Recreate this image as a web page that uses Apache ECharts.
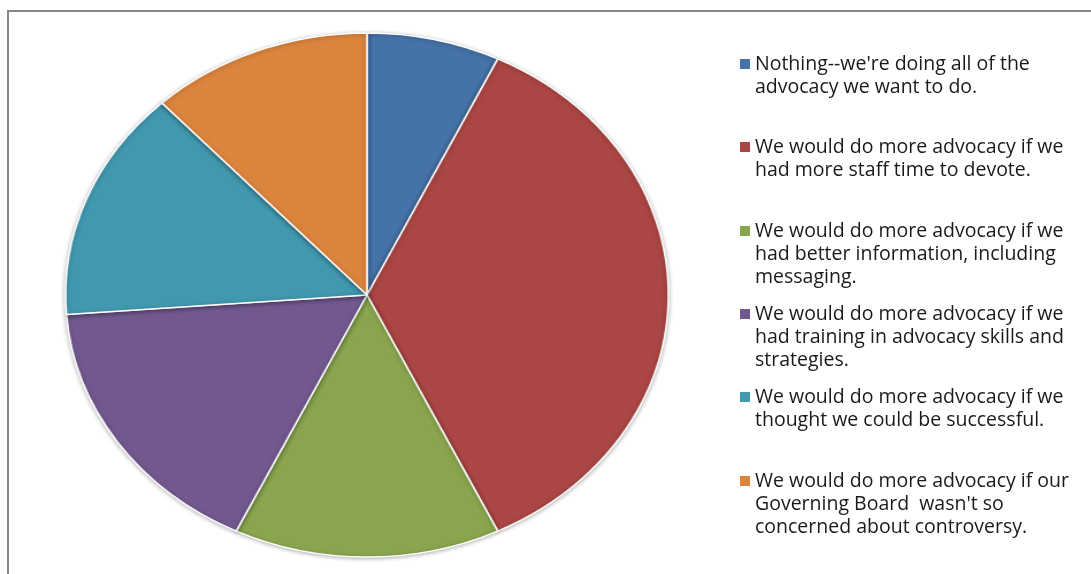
<!DOCTYPE html>
<html>
<head>
<meta charset="utf-8">
<script src="https://cdn.jsdelivr.net/npm/echarts@6/dist/echarts.min.js"></script>
<style>
  html, body { margin: 0; padding: 0; background: #fff; overflow: hidden; }
  #frame { position: absolute; left: 7px; top: 10px; width: 1200px; height: 700px; border: 2px solid #878787; }
  /* the original pie is an ellipse, so the pie chart is stretched sideways */
  #pie { position: absolute; left: 97px; top: 25px; width: 540px; height: 540px;
         transform: scaleX(1.1505); transform-origin: 50% 50%; }
  #legend { position: absolute; left: 0; top: 0; width: 1091px; height: 574px; }
</style>
</head>
<body>
<div id="frame"></div>
<div id="pie"></div>
<div id="legend"></div>
<script>
const answers = [
  "Nothing--we're doing all of the advocacy we want to do.",
  'We would do more advocacy if we had more staff time to devote.',
  'We would do more advocacy if we had better information, including messaging.',
  'We would do more advocacy if we had training in advocacy skills and strategies.',
  'We would do more advocacy if we thought we could be successful.',
  "We would do more advocacy if our Governing Board wasn't so concerned about controversy."
];
const legendLines = [
  ["Nothing--we're doing all of the", 'advocacy we want to do.'],
  ['We would do more advocacy if we', 'had more staff time to devote.'],
  ['We would do more advocacy if we', 'had better information, including', 'messaging.'],
  ['We would do more advocacy if we', 'had training in advocacy skills and', 'strategies.'],
  ['We would do more advocacy if we', 'thought we could be successful.'],
  ['We would do more advocacy if our', "Governing Board  wasn't so", 'concerned about controversy.']
];
const counts = [3, 15, 6, 7, 6, 5];
const colors = ['#4572A7', '#AA4643', '#89A54E', '#71588F', '#4198AF', '#DB843D'];

const pieData = answers.map((name, i) => ({ name, value: counts[i] }));
const lineH = 23;

const pieChart = echarts.init(document.getElementById('pie'));
pieChart.setOption({
  animation: false,
  color: colors,
  series: [{
    type: 'pie',
    center: ['50%', '50%'],
    radius: 262,
    startAngle: 90,
    clockwise: true,
    label: { show: false },
    labelLine: { show: false },
    itemStyle: {
      borderColor: '#fff',
      borderWidth: 1.5,
      shadowBlur: 4,
      shadowOffsetY: 1,
      shadowColor: 'rgba(0,0,0,0.3)'
    },
    data: pieData
  }]
});

// legend sits in its own unstretched chart, one block per answer.
// blank lines are put in front so the marker lines up with the first text line
const firstLineY = [64, 147, 231, 314, 397, 481];
const legendChart = echarts.init(document.getElementById('legend'));
legendChart.setOption({
  animation: false,
  color: colors,
  legend: answers.map((name, i) => {
    const n = legendLines[i].length;
    return {
      left: 740,
      top: firstLineY[i] - (2 * n - 1) * lineH / 2,
      orient: 'vertical',
      icon: 'rect',
      itemWidth: 10,
      itemHeight: 10,
      itemGap: 0,
      padding: 0,
      data: [name],
      formatter: () => '\n'.repeat(n - 1) + legendLines[i].join('\n'),
      textStyle: {
        fontFamily: 'Open Sans',
        fontSize: 19.5,
        lineHeight: lineH,
        color: '#1a1a1a'
      }
    };
  }),
  series: [{
    type: 'pie',
    radius: 0,
    silent: true,
    label: { show: false },
    labelLine: { show: false },
    data: pieData
  }]
});

pieChart.group = legendChart.group = 'advocacy';
echarts.connect('advocacy');
</script>
</body>
</html>
